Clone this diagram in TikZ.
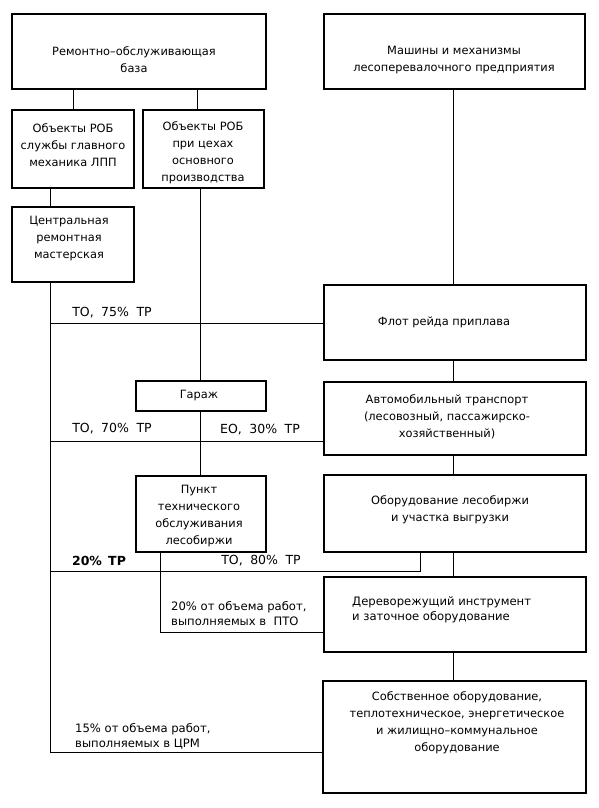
\documentclass[tikz,border=0pt]{standalone}
\usepackage{fontspec}
\setmainfont{DejaVu Sans}
\begin{document}
\begin{tikzpicture}[x=1pt,y=-1pt,
  box/.style={draw, line width=1.3pt, inner sep=0pt},
  conn/.style={line width=1pt},
  txt/.style={font=\fontsize{11.4}{17}\selectfont, align=center, inner sep=0pt},
  lab/.style={font=\fontsize{12.5}{17}\selectfont, inner sep=0pt},
  ltxt/.style={font=\fontsize{11.6}{15}\selectfont, align=left, inner sep=0pt, anchor=west}]
\fill[white] (0,0) rectangle (598,808);
\useasboundingbox (0,0) rectangle (598,808);
% boxes
\node[box, minimum width=254pt, minimum height=75pt] (rob) at (139,51.5) {};
\node[box, minimum width=261pt, minimum height=75pt] (mach) at (454.5,51.5) {};
\node[box, minimum width=122pt, minimum height=78pt] (ob1) at (73,149) {};
\node[box, minimum width=121pt, minimum height=78pt] (ob2) at (203.5,149) {};
\node[box, minimum width=122pt, minimum height=75pt] (crm) at (73,244.5) {};
\node[box, minimum width=262pt, minimum height=75pt] (flot) at (455,322.5) {};
\node[box, minimum width=130pt, minimum height=30pt] (garage) at (201,396) {};
\node[box, minimum width=262pt, minimum height=73pt] (auto) at (455,418.5) {};
\node[box, minimum width=130pt, minimum height=76pt] (pto) at (201,514) {};
\node[box, minimum width=262pt, minimum height=77pt] (equip) at (455,513.5) {};
\node[box, minimum width=262pt, minimum height=75pt] (tool) at (455,614.5) {};
\node[box, minimum width=263pt, minimum height=112pt] (own) at (454.5,737) {};
% box texts
\node[txt] (robT) at (134,60) {Ремонтно–обслуживающая\\база};
\node[txt] (machT) at (454,60) {Машины и механизмы\\лесоперевалочного предприятия};
\node[txt] (ob1T) at (73,145.5) {Объекты РОБ\\службы главного\\механика ЛПП};
\node[txt] (ob2T) at (203,153) {Объекты РОБ\\при цехах\\основного\\производства};
\node[txt] (crmT) at (69,238.5) {Центральная\\ремонтная\\мастерская};
\node[txt] (flotT) at (444,322) {Флот рейда приплава};
\node[txt] (garageT) at (199,396) {Гараж};
\node[txt] (autoT) at (447,416.5) {Автомобильный транспорт\\(лесовозный, пассажирско-\\хозяйственный)};
\node[txt] (ptoT) at (199,516.5) {Пункт\\технического\\обслуживания\\лесобиржи};
\node[txt] (equipT) at (450,509.5) {Оборудование лесобиржи\\и участка выгрузки};
\node[ltxt] (toolT) at (352,609.5) {Дереворежущий инструмент\\и заточное оборудование};
\node[txt] (ownT) at (457,722.5) {Собственное оборудование,\\теплотехническое, энергетическое\\и жилищно–коммунальное\\оборудование};
% labels
\node[lab] (l75) at (112,313) {ТО,\hspace{0.6em}75\%\hspace{0.6em}ТР};
\node[lab] (l70) at (112,429) {ТО,\hspace{0.6em}70\%\hspace{0.6em}ТР};
\node[lab] (l30) at (260,430) {ЕО,\hspace{0.6em}30\%\hspace{0.6em}ТР};
\node[lab, font=\fontsize{12.5}{17}\selectfont\bfseries] (l20) at (99,561) {20\%\hspace{0.5em}ТР};
\node[lab] (l80) at (261,561) {ТО,\hspace{0.6em}80\%\hspace{0.6em}ТР};
\node[ltxt] (lpto) at (171,614) {20\% от объема работ,\\выполняемых в \ ПТО};
\node[ltxt] (lcrm) at (75,736) {15\% от объема работ,\\выполняемых в ЦРМ};
% coordinates
\coordinate (xa) at (197,0);
\coordinate (xv) at (200,0);
\coordinate (xl) at (50,0);
\coordinate (xe) at (420,0);
\coordinate (xp) at (160,0);
\coordinate (xr) at (453,0);
\coordinate (y1) at (0,323);
\coordinate (y2) at (0,441);
\coordinate (y3) at (0,571);
\coordinate (y4) at (0,632);
\coordinate (y5) at (0,752);
% connectors
\draw[conn] (rob.south -| ob1.north) -- (ob1.north);
\draw[conn] (rob.south -| xa) -- (ob2.north -| xa);
\draw[conn] (ob1.south -| xl) -- (crm.north -| xl);
\draw[conn] (ob2.south -| xv) -- (garage.north -| xv);
\draw[conn] (garage.south -| xv) -- (pto.north -| xv);
\draw[conn] (crm.south -| xl) -- (xl |- y5) -- (own.west |- y5);
\draw[conn] (xl |- y1) -- (flot.west |- y1);
\draw[conn] (xl |- y2) -- (auto.west |- y2);
\draw[conn] (xl |- y3) -- (xe |- y3) -- (equip.south -| xe);
\draw[conn] (pto.south -| xp) -- (xp |- y4) -- (tool.west |- y4);
\draw[conn] (mach.south -| xr) -- (flot.north -| xr);
\draw[conn] (flot.south -| xr) -- (auto.north -| xr);
\draw[conn] (auto.south -| xr) -- (equip.north -| xr);
\draw[conn] (equip.south -| xr) -- (tool.north -| xr);
\draw[conn] (tool.south -| xr) -- (own.north -| xr);
\end{tikzpicture}
\end{document}
